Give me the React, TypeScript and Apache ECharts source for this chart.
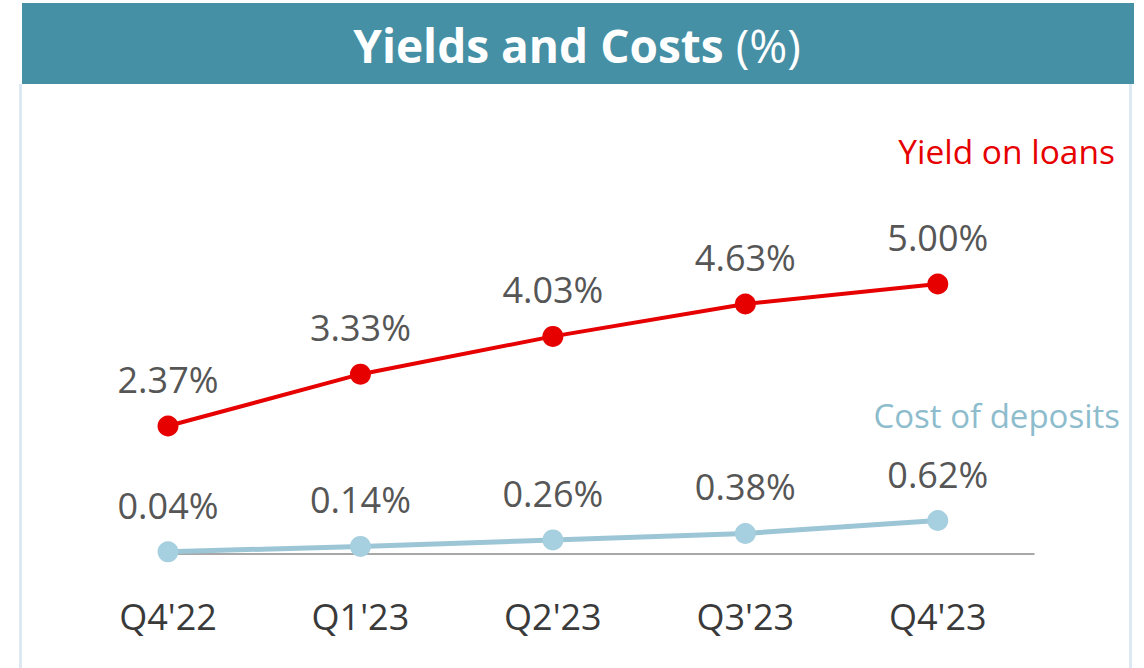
import React, { useEffect, useRef } from "react";
import * as echarts from "echarts";

const categories = ["Q4'22", "Q1'23", "Q2'23", "Q3'23", "Q4'23"];
const yieldOnLoans = [2.37, 3.33, 4.03, 4.63, 5.0];
const costOfDeposits = [0.04, 0.14, 0.26, 0.38, 0.62];
const seriesNames = ["Yield on loans", "Cost of deposits"];
const titleMain = "Yields and Costs";
const titleUnit = "(%)";

const FONT = "'Open Sans', 'Noto Sans', sans-serif";

export default function App() {
  const ref = useRef<HTMLDivElement>(null);
  useEffect(() => {
    if (!ref.current) return;
    const chart = echarts.init(ref.current, undefined, { renderer: "svg" });
    const toPairs = (arr: number[]) => arr.map((v, i) => [i, v]);
    const labelCfg = {
      show: true,
      position: "top",
      distance: 18,
      fontSize: 36,
      fontFamily: FONT,
      color: "#565656",
      formatter: (p: any) => p.value[1].toFixed(2) + "%",
    };
    chart.setOption({
      animation: false,
      backgroundColor: "#ffffff",
      grid: { left: 168, right: 110, top: 230, bottom: 114, containLabel: false },
      xAxis: {
        type: "value",
        min: 0,
        max: 4.5,
        interval: 1,
        splitLine: { show: false },
        axisTick: { show: false },
        axisLine: { show: true, lineStyle: { color: "#8a8a8a", width: 1.5 } },
        axisLabel: {
          margin: 44,
          fontSize: 36,
          fontFamily: FONT,
          color: "#3a3a3a",
          showMaxLabel: false,
          formatter: (v: number) => (Number.isInteger(v) && categories[v] ? categories[v] : ""),
        },
      },
      yAxis: {
        type: "value",
        min: 0,
        max: 6,
        show: false,
        splitLine: { show: false },
      },
      graphic: [
        {
          type: "rect",
          shape: { x: 22, y: 3, width: 1112, height: 81 },
          style: { fill: "#4690a5" },
          z: 10,
        },
        {
          type: "rect",
          shape: { x: 19, y: 84, width: 3, height: 584 },
          style: { fill: "#dde9f2" },
        },
        {
          type: "rect",
          shape: { x: 1129, y: 84, width: 3, height: 584 },
          style: { fill: "#dde9f2" },
        },
        {
          type: "text",
          x: 577,
          y: 45,
          z: 11,
          style: {
            text: `{b|${titleMain}}{s| }{n|${titleUnit}}`,
            align: "center",
            verticalAlign: "middle",
            rich: {
              b: { fontSize: 46, fontWeight: "bold", fontFamily: FONT, fill: "#ffffff", color: "#ffffff" },
              s: { fontSize: 30, fontFamily: FONT, fill: "#ffffff", color: "#ffffff", width: 12 },
              n: { fontSize: 46, fontWeight: "normal", fontFamily: FONT, fill: "#ffffff", color: "#ffffff" },
            },
          },
        },
        {
          type: "text",
          x: 1115,
          y: 151,
          style: {
            text: seriesNames[0],
            align: "right",
            verticalAlign: "middle",
            fontSize: 33.5,
            fontFamily: FONT,
            fill: "#e60000",
          },
        },
        {
          type: "text",
          x: 1120,
          y: 415,
          style: {
            text: seriesNames[1],
            align: "right",
            verticalAlign: "middle",
            fontSize: 33,
            fontFamily: FONT,
            fill: "#8dbccd",
          },
        },
      ],
      series: [
        {
          name: seriesNames[1],
          type: "line",
          data: toPairs(costOfDeposits),
          symbol: "circle",
          symbolSize: 21,
          lineStyle: { color: "#9cc6d6", width: 5 },
          itemStyle: { color: "#a6cfdf" },
          label: labelCfg,
          z: 3,
        },
        {
          name: seriesNames[0],
          type: "line",
          data: toPairs(yieldOnLoans),
          symbol: "circle",
          symbolSize: 21,
          lineStyle: { color: "#e60000", width: 4 },
          itemStyle: { color: "#e60000" },
          label: labelCfg,
          z: 4,
        },
      ],
    });
    return () => chart.dispose();
  }, []);
  return (
    <div
      ref={ref}
      style={{ position: "absolute", left: 0, top: 0, width: 1144, height: 668 }}
    />
  );
}
